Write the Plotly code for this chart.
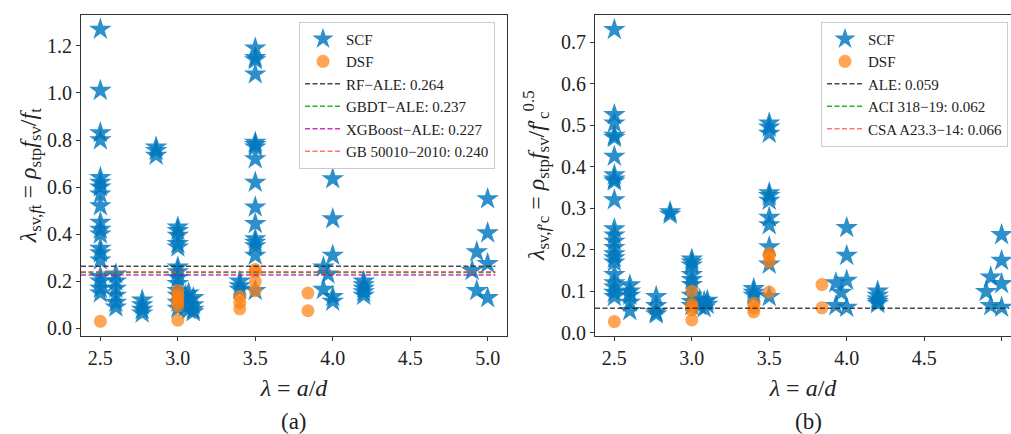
import plotly.graph_objects as go

FONT = "Liberation Serif"

# ---------------- data ----------------
# panel (a): lambda_sv,ft
SCF_A = [
    (2.5, [1.27, 1.01, 0.83, 0.80, 0.64, 0.62, 0.60, 0.57, 0.52, 0.45, 0.42, 0.40, 0.34, 0.32, 0.29, 0.22, 0.20, 0.17, 0.15]),
    (2.6, [0.23, 0.20, 0.17, 0.14, 0.11, 0.09]),
    (2.77, [0.12, 0.10, 0.08, 0.065]),
    (2.86, [0.77, 0.755, 0.735]),
    (3.0, [0.43, 0.415, 0.395, 0.36, 0.345, 0.26, 0.24, 0.215, 0.19, 0.16, 0.14, 0.11, 0.085]),
    (3.05, [0.14, 0.11, 0.09]),
    (3.07, [0.15, 0.12, 0.08]),
    (3.1, [0.13, 0.10, 0.08, 0.07]),
    (3.4, [0.20, 0.18, 0.165]),
    (3.5, [1.19, 1.15, 1.14, 1.08, 0.79, 0.78, 0.77, 0.72, 0.62, 0.515, 0.445, 0.38, 0.365, 0.35, 0.31, 0.16]),
    (3.94, [0.26, 0.165]),
    (3.97, [0.23]),
    (4.0, [0.635, 0.465, 0.31, 0.135, 0.115]),
    (4.2, [0.20, 0.185, 0.17, 0.155, 0.14]),
    (4.9, [0.245]),
    (4.93, [0.325, 0.16]),
    (5.0, [0.55, 0.405, 0.275, 0.13]),
]
DSF_A = [
    (2.5, [0.03]),
    (3.0, [0.16, 0.14, 0.125, 0.11, 0.095, 0.035]),
    (3.4, [0.135, 0.11, 0.083]),
    (3.5, [0.25, 0.24, 0.20, 0.16]),
    (3.84, [0.15, 0.075]),
]
# panel (b): lambda_sv,f'c
SCF_B = [
    (2.5, [0.73, 0.525, 0.505, 0.475, 0.47, 0.425, 0.38, 0.37, 0.365, 0.32, 0.25, 0.235, 0.22, 0.205, 0.19, 0.18, 0.17, 0.14, 0.12, 0.11, 0.097, 0.087]),
    (2.6, [0.115, 0.10, 0.09, 0.073, 0.053]),
    (2.77, [0.087, 0.065, 0.05, 0.045]),
    (2.86, [0.291, 0.285]),
    (3.0, [0.177, 0.17, 0.163, 0.14, 0.128, 0.116, 0.09, 0.075, 0.065]),
    (3.05, [0.08, 0.065]),
    (3.08, [0.075, 0.06]),
    (3.1, [0.078, 0.068]),
    (3.4, [0.106, 0.097, 0.09]),
    (3.5, [0.505, 0.495, 0.48, 0.337, 0.33, 0.319, 0.278, 0.26, 0.207, 0.165, 0.087]),
    (3.93, [0.12, 0.065]),
    (3.965, [0.097]),
    (4.0, [0.253, 0.186, 0.126, 0.061]),
    (4.2, [0.10, 0.09, 0.081, 0.075, 0.07]),
    (4.9, [0.099]),
    (4.93, [0.134, 0.065]),
    (5.0, [0.236, 0.174, 0.118, 0.061]),
]
DSF_B = [
    (2.5, [0.027]),
    (3.0, [0.10, 0.069, 0.063, 0.055, 0.031]),
    (3.4, [0.071, 0.06, 0.05]),
    (3.5, [0.191, 0.185, 0.171, 0.098]),
    (3.84, [0.116, 0.06]),
]

# reference lines: (label, value, colour, drawn?)
LINES_A = [
    ("RF\u2212ALE", 0.264, "rgba(40,40,40,0.85)", True),
    ("GBDT\u2212ALE", 0.237, "rgba(20,170,20,0.9)", True),
    ("XGBoost\u2212ALE", 0.227, "rgba(190,0,190,0.8)", True),
    ("GB 50010\u22122010", 0.240, "rgba(255,60,60,0.7)", True),
]
LINES_B = [
    ("ALE", 0.059, "rgba(40,40,40,0.85)", True),
    ("ACI 318\u221219", 0.062, "rgba(20,170,20,0.9)", False),
    ("CSA A23.3\u221214", 0.066, "rgba(255,60,60,0.7)", False),
]
LINE_X_SPAN = [2.375, 5.05]

X_TICKS = [2.5, 3.0, 3.5, 4.0, 4.5, 5.0]
Y_TICKS_A = [0.0, 0.2, 0.4, 0.6, 0.8, 1.0, 1.2]
Y_TICKS_B = [0.0, 0.1, 0.2, 0.3, 0.4, 0.5, 0.6, 0.7]

STAR_COLOR = "rgba(0,120,190,0.82)"
DOT_COLOR = "rgba(255,127,14,0.7)"


def flatten(groups):
    xs, ys = [], []
    for x, vals in groups:
        for v in vals:
            xs.append(x)
            ys.append(v)
    return xs, ys


fig = go.Figure()

panels = [
    ("x", "y", "legend", SCF_A, DSF_A, LINES_A),
    ("x2", "y2", "legend2", SCF_B, DSF_B, LINES_B),
]
for xa, ya, leg, scf, dsf, lines in panels:
    sx, sy = flatten(scf)
    fig.add_trace(go.Scatter(
        x=sx, y=sy, mode="markers", name="SCF", xaxis=xa, yaxis=ya, legend=leg,
        marker=dict(symbol="star", size=17, color=STAR_COLOR, line=dict(width=0)),
    ))
    dx, dy = flatten(dsf)
    fig.add_trace(go.Scatter(
        x=dx, y=dy, mode="markers", name="DSF", xaxis=xa, yaxis=ya, legend=leg,
        marker=dict(symbol="circle", size=13, color=DOT_COLOR, line=dict(width=0)),
    ))
    for label, val, col, drawn in lines:
        fig.add_trace(go.Scatter(
            x=LINE_X_SPAN if drawn else [None],
            y=[val, val] if drawn else [None],
            mode="lines", name=f"{label}: {val:.3f}", xaxis=xa, yaxis=ya, legend=leg,
            line=dict(color=col, width=1.5, dash="5px,2.5px"),
        ))

Y_DOM = [1 - 342 / 434, 1 - 15 / 434]
axis_common = dict(
    showline=True, linecolor="#333333", linewidth=1.2, ticks="outside", ticklen=4,
    tickcolor="#333333", tickwidth=1.2, showgrid=False, zeroline=False,
    tickfont=dict(family=FONT, size=20, color="#222222"),
)
x_title = dict(text="<i>λ</i> = <i>a</i>/<i>d</i>", font=dict(family=FONT, size=24, color="#222222"), standoff=11)
legend_common = dict(
    yanchor="top", xanchor="left", y=1 - 22 / 434,
    bgcolor="rgba(255,255,255,0.85)", bordercolor="#cccccc", borderwidth=1,
    font=dict(family=FONT, size=15, color="#222222"), itemwidth=36,
)

fig.update_layout(
    width=1011, height=434,
    margin=dict(l=0, r=0, t=0, b=0),
    paper_bgcolor="white", plot_bgcolor="white",
    showlegend=True,
    xaxis=dict(domain=[81 / 1011, 507 / 1011], range=[2.375, 5.125], tickvals=X_TICKS,
               tickformat=".1f", mirror=True, anchor="y", title=x_title, **axis_common),
    yaxis=dict(domain=Y_DOM, range=[-0.031, 1.332], tickvals=Y_TICKS_A, tickformat=".1f",
               mirror=True, anchor="x",
               title=dict(text="<i>λ</i><sub>sv,<i>f</i>t</sub> = <i>ρ</i><sub>stp</sub><i>f</i><sub>sv</sub>/<i>f</i><sub>t</sub>",
                          font=dict(family=FONT, size=24, color="#222222"), standoff=3),
               **axis_common),
    xaxis2=dict(domain=[595 / 1011, 1.0], range=[2.375, 2.375 + 416 / 154.9], tickvals=X_TICKS,
                tickformat=".1f", mirror=True, anchor="y2", title=x_title, **axis_common),
    yaxis2=dict(domain=Y_DOM, range=[-0.007, 0.766], tickvals=Y_TICKS_B, tickformat=".1f",
                mirror=False, anchor="x2",
                title=dict(text="<i>λ</i><sub>sv,<i>f</i>′c</sub> = <i>ρ</i><sub>stp</sub><i>f</i><sub>sv</sub>/<i>f</i>′<sub>c</sub><sup>0.5</sup>",
                           font=dict(family=FONT, size=24, color="#222222"), standoff=9),
                **axis_common),
    legend=dict(x=299 / 1011, **legend_common),
    legend2=dict(x=821 / 1011, **legend_common),
    annotations=[
        dict(text="(a)", x=294 / 1011, y=1 - 429 / 434, xref="paper", yref="paper",
             xanchor="center", yanchor="middle",
             showarrow=False, font=dict(family=FONT, size=23, color="#222222")),
        dict(text="(b)", x=808 / 1011, y=1 - 429 / 434, xref="paper", yref="paper",
             xanchor="center", yanchor="middle",
             showarrow=False, font=dict(family=FONT, size=23, color="#222222")),
    ],
)

fig.write_html("out.html")
